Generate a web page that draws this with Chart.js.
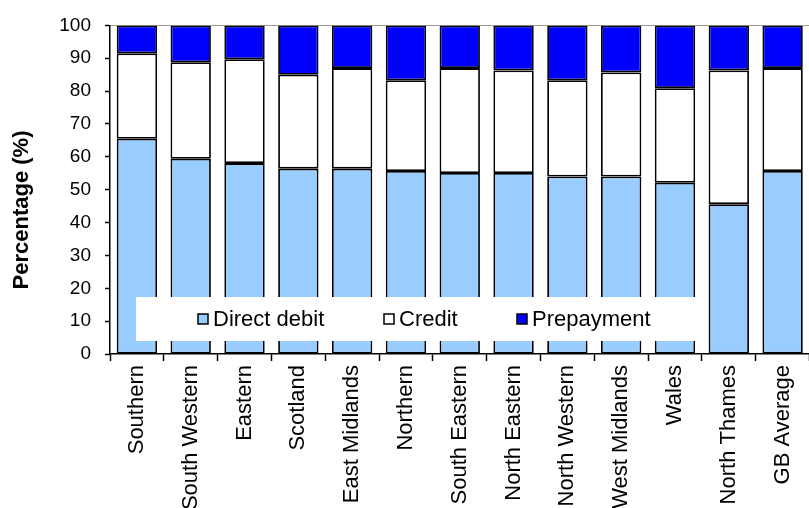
<!DOCTYPE html>
<html>
<head>
<meta charset="utf-8">
<script src="https://cdn.jsdelivr.net/npm/chart.js@4"></script>
<style>
  html, body { margin: 0; padding: 0; background: #fff; overflow: hidden; }
  #wrap { width: 813px; height: 508px; position: relative; }
</style>
</head>
<body>
<div id="wrap"><canvas id="chart"></canvas></div>
<script>
// data (percent of customers)
const categories = ['Southern', 'South Western', 'Eastern', 'Scotland', 'East Midlands', 'Northern',
  'South Eastern', 'North Eastern', 'North Western', 'West Midlands', 'Wales', 'North Thames', 'GB Average'];
const directDebit = [65.5, 59.4, 58.1, 56.4, 56.4, 55.7, 55.1, 55.1, 54.0, 54.0, 52.1, 45.6, 55.7];
const credit = [26.0, 29.4, 31.6, 28.6, 30.6, 27.6, 31.9, 31.2, 29.3, 31.7, 28.8, 40.7, 31.3];
const prepayment = [8.5, 11.2, 10.3, 15.0, 13.0, 16.7, 13.0, 13.7, 16.7, 14.3, 19.1, 13.7, 13.0];
const seriesNames = ['Direct debit', 'Credit', 'Prepayment'];
const yMin = 0, yMax = 100, yStep = 10;
const yTitle = 'Percentage (%)';

const FONT = '"Liberation Sans", Arial, sans-serif';
const legendItemX = [198, 384, 517];

// legend box drawn inside the plot, like the original
const insideLegend = {
  id: 'insideLegend',
  afterDatasetsDraw(chart) {
    const ctx = chart.ctx;
    ctx.save();
    ctx.fillStyle = '#fff';
    ctx.fillRect(136, 297, 560, 44);
    ctx.font = '22px ' + FONT;
    ctx.textBaseline = 'middle';
    const y = 319;
    chart.data.datasets.forEach((ds, i) => {
      const x = legendItemX[i];
      ctx.fillStyle = ds.backgroundColor;
      ctx.fillRect(x, y - 5, 10, 10);
      ctx.strokeStyle = '#000';
      ctx.lineWidth = 1.5;
      ctx.strokeRect(x, y - 5, 10, 10);
      ctx.fillStyle = '#000';
      ctx.fillText(ds.label, x + 15, y + 1);
    });
    ctx.restore();
  }
};

const yTitlePlugin = {
  id: 'yTitlePlugin',
  afterDraw(chart) {
    const ctx = chart.ctx;
    ctx.save();
    ctx.translate(22, 210);
    ctx.rotate(-Math.PI / 2);
    ctx.font = 'bold 22px ' + FONT;
    ctx.fillStyle = '#000';
    ctx.textAlign = 'center';
    ctx.textBaseline = 'middle';
    ctx.fillText(yTitle, 0, 0);
    ctx.restore();
  }
};

const common = { borderColor: '#000', borderWidth: 1.8, borderSkipped: false, barPercentage: 0.75, categoryPercentage: 1.0 };

new Chart(document.getElementById('chart'), {
  type: 'bar',
  data: {
    labels: categories,
    datasets: [
      Object.assign({ label: seriesNames[0], data: directDebit, backgroundColor: '#99CCFF' }, common),
      Object.assign({ label: seriesNames[1], data: credit, backgroundColor: '#FFFFFF' }, common),
      Object.assign({ label: seriesNames[2], data: prepayment, backgroundColor: '#0000FF' }, common)
    ]
  },
  options: {
    responsive: true,
    maintainAspectRatio: false,
    animation: false,
    layout: { padding: { top: 9, right: 0, left: 0, bottom: 0 } },
    plugins: { legend: { display: false }, tooltip: { enabled: false } },
    scales: {
      x: {
        stacked: true,
        grid: { drawOnChartArea: false, tickLength: 7, tickColor: '#000', tickWidth: 1.5 },
        border: { color: '#000', width: 1.5 },
        ticks: { color: '#000', font: { family: FONT, size: 22 }, maxRotation: 90, minRotation: 90, padding: 4, autoSkip: false },
        afterFit(scale) { scale.height = 154; }
      },
      y: {
        stacked: true,
        min: yMin,
        max: yMax,
        grid: {
          color: ctx => (ctx.tick && ctx.tick.value === yMax) ? '#999' : 'rgba(0,0,0,0)',
          tickColor: '#000', tickLength: 5, tickWidth: 1.5
        },
        border: { color: '#000', width: 1.5 },
        ticks: { stepSize: yStep, color: '#000', font: { family: FONT, size: 19 }, padding: 14 },
        afterFit(scale) { scale.width = 110; }
      }
    }
  },
  plugins: [insideLegend, yTitlePlugin]
});
</script>
</body>
</html>
